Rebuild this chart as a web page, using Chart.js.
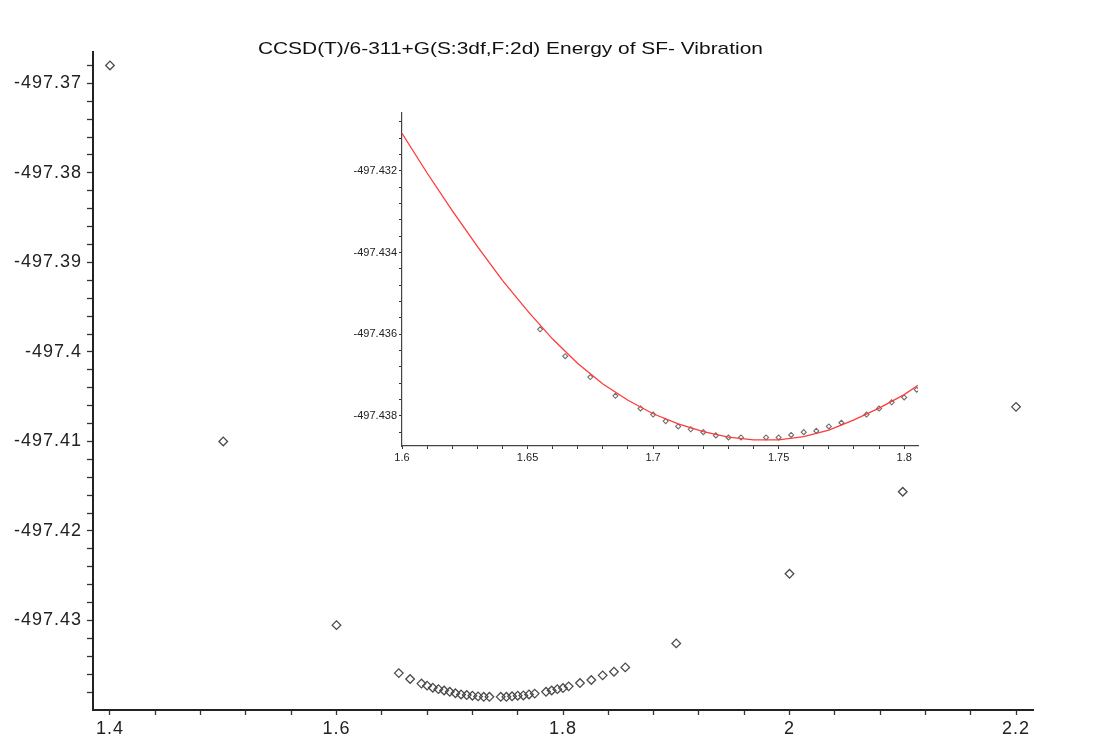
<!DOCTYPE html>
<html>
<head>
<meta charset="utf-8">
<script src="https://cdn.jsdelivr.net/npm/chart.js@4/dist/chart.umd.min.js"></script>
<style>
html,body{margin:0;padding:0;background:#fff;}
#wrap{position:relative;width:1107px;height:741px;overflow:hidden;background:#fff;}
#main{position:absolute;left:0;top:0;}
#inset{position:absolute;left:330px;top:95px;}
#title{position:absolute;top:39px;left:0;width:1020px;text-align:center;}
#title span{display:inline-block;font:17px "Liberation Sans",Arial,sans-serif;line-height:20px;color:#111;white-space:nowrap;transform-origin:50% 50%;}
</style>
</head>
<body>
<div id="wrap">
  <canvas id="main" width="1107" height="741"></canvas>
  <canvas id="inset" width="600" height="375"></canvas>
  <div id="title"><span id="titleText"></span></div>
</div>
<script>
// ---------- data ----------
const titleText = 'CCSD(T)/6-311+G(S:3df,F:2d) Energy of SF- Vibration';

// main plot: bond length vs energy
const mainX = [1.4, 1.5, 1.6, 1.655, 1.665, 1.675, 1.68, 1.685, 1.69, 1.695, 1.7, 1.705, 1.71, 1.715, 1.72, 1.725, 1.73, 1.735, 1.745, 1.75, 1.755, 1.76, 1.765, 1.77, 1.775, 1.785, 1.79, 1.795, 1.8, 1.805, 1.815, 1.825, 1.835, 1.845, 1.855, 1.9, 2.0, 2.1, 2.2];
const mainY = [-497.3680, -497.4100, -497.43052, -497.43588, -497.43654, -497.43705, -497.43728, -497.43751, -497.43767, -497.43782, -497.43797, -497.43813, -497.43826, -497.43833, -497.43840, -497.43848, -497.43853, -497.43853, -497.43853, -497.43853, -497.43847, -497.43840, -497.43837, -497.43826, -497.43817, -497.43797, -497.43782, -497.43767, -497.43755, -497.43736, -497.43699, -497.43665, -497.43613, -497.43572, -497.43524, -497.43256, -497.42479, -497.41562, -497.40614];

// inset: zoomed points
const insetX = [1.655, 1.665, 1.675, 1.685, 1.695, 1.7, 1.705, 1.71, 1.715, 1.72, 1.725, 1.73, 1.735, 1.745, 1.75, 1.755, 1.76, 1.765, 1.77, 1.775, 1.785, 1.79, 1.795, 1.8, 1.805];
const insetY = [-497.43588, -497.43654, -497.43705, -497.43751, -497.43782, -497.43797, -497.43813, -497.43826, -497.43833, -497.43840, -497.43848, -497.43853, -497.43853, -497.43853, -497.43853, -497.43847, -497.43840, -497.43837, -497.43826, -497.43817, -497.43797, -497.43782, -497.43767, -497.43755, -497.43736];

// inset: red fitted curve
const fitX = [1.6, 1.61, 1.62, 1.63, 1.64, 1.65, 1.66, 1.67, 1.68, 1.69, 1.7, 1.71, 1.72, 1.73, 1.74, 1.75, 1.76, 1.77, 1.78, 1.79, 1.8, 1.8055];
const fitY = [-497.43108, -497.43205, -497.43297, -497.43385, -497.43468, -497.43543, -497.43612, -497.43672, -497.43722, -497.43762, -497.43795, -497.43820, -497.43839, -497.43852, -497.43859, -497.43859, -497.43851, -497.43835, -497.43810, -497.43781, -497.43748, -497.43725];

// tick labels
const mainXTickValues = [1.4, 1.6, 1.8, 2.0, 2.2];
const mainXTickLabels = ['1.4', '1.6', '1.8', '2', '2.2'];
const mainYTickValues = [-497.37, -497.38, -497.39, -497.40, -497.41, -497.42, -497.43];
const mainYTickLabels = ['-497.37', '-497.38', '-497.39', '-497.4', '-497.41', '-497.42', '-497.43'];
const insetXTickValues = [1.6, 1.65, 1.7, 1.75, 1.8];
const insetXTickLabels = ['1.6', '1.65', '1.7', '1.75', '1.8'];
const insetYTickValues = [-497.432, -497.434, -497.436, -497.438];
const insetYTickLabels = ['-497.432', '-497.434', '-497.436', '-497.438'];

// ---------- helpers ----------
function stepTicks(start, step, count) {
  const out = [];
  for (let i = 0; i < count; i++) out.push(+(start + i * step).toFixed(6));
  return out;
}
function labeler(values, labels) {
  return function (v) {
    for (let i = 0; i < values.length; i++) if (Math.abs(v - values[i]) < 1e-7) return labels[i];
    return '';
  };
}
function setTicks(arr) {
  return function (scale) { scale.ticks = arr.map(v => ({ value: v })); };
}
const FONT = '"Liberation Sans", Arial, sans-serif';

// ---------- title ----------
const tspan = document.getElementById('titleText');
tspan.textContent = titleText;
const natW = tspan.getBoundingClientRect().width;
tspan.style.transform = 'scaleX(' + (505 / natW).toFixed(4) + ')';

// ---------- main chart ----------
const spacing = { id: 'spacing', beforeDraw(chart) { chart.ctx.letterSpacing = '1px'; } };

new Chart(document.getElementById('main'), {
  type: 'scatter',
  data: {
    datasets: [{
      data: mainX.map((x, i) => ({ x: x, y: mainY[i] })),
      pointStyle: 'rectRot',
      pointRadius: 4.3,
      pointHoverRadius: 4.3,
      borderWidth: 1.3,
      borderColor: '#4a4a4a',
      backgroundColor: 'rgba(255,255,255,0)'
    }]
  },
  options: {
    responsive: false,
    animation: false,
    events: [],
    layout: { padding: { left: 0, top: 52, right: 74, bottom: 0 } },
    plugins: { legend: { display: false }, tooltip: { enabled: false }, title: { display: false } },
    scales: {
      x: {
        type: 'linear', min: 1.385, max: 2.215,
        afterBuildTicks: setTicks(stepTicks(1.4, 0.04, 21)),
        afterFit: s => { s.height = 31; },
        grid: { display: true, drawOnChartArea: false, drawTicks: true, tickLength: 5, tickColor: '#333', tickWidth: 1.3 },
        border: { display: true, color: '#222', width: 2 },
        ticks: { autoSkip: false, maxRotation: 0, padding: 3, color: '#222', font: { size: 18, family: FONT },
                 callback: labeler(mainXTickValues, mainXTickLabels) }
      },
      y: {
        type: 'linear', min: -497.44, max: -497.3665,
        afterBuildTicks: setTicks(stepTicks(-497.438, 0.002, 36)),
        afterFit: s => { s.width = 93; },
        grid: { display: true, drawOnChartArea: false, drawTicks: true, tickLength: 6, tickColor: '#333', tickWidth: 1.3 },
        border: { display: true, color: '#222', width: 2 },
        ticks: { autoSkip: false, padding: 5, color: '#222', font: { size: 18, family: FONT },
                 callback: labeler(mainYTickValues, mainYTickLabels) }
      }
    }
  },
  plugins: [spacing]
});

// ---------- inset chart ----------
new Chart(document.getElementById('inset'), {
  type: 'scatter',
  data: {
    datasets: [{
      data: fitX.map((x, i) => ({ x: x, y: fitY[i] })),
      showLine: true,
      pointRadius: 0,
      pointHoverRadius: 0,
      borderColor: '#ff3b3b',
      borderWidth: 1.3,
      tension: 0,
      fill: false
    }, {
      data: insetX.map((x, i) => ({ x: x, y: insetY[i] })),
      pointStyle: 'rectRot',
      pointRadius: 2.5,
      pointHoverRadius: 2.5,
      borderWidth: 1.1,
      borderColor: '#6e6e6e',
      backgroundColor: 'rgba(255,255,255,0)'
    }]
  },
  options: {
    responsive: false,
    animation: false,
    events: [],
    layout: { padding: { left: 0, top: 18, right: 12, bottom: 0 } },
    plugins: { legend: { display: false }, tooltip: { enabled: false }, title: { display: false } },
    scales: {
      x: {
        type: 'linear', min: 1.6, max: 1.8055,
        afterBuildTicks: setTicks(stepTicks(1.6, 0.01, 21)),
        afterFit: s => { s.height = 24; },
        grid: { display: true, drawOnChartArea: false, drawTicks: true, tickLength: 3, tickColor: '#333', tickWidth: 1 },
        border: { display: true, color: '#444', width: 1.2 },
        ticks: { autoSkip: false, maxRotation: 0, padding: 2, color: '#222', font: { size: 11, family: FONT },
                 callback: labeler(insetXTickValues, insetXTickLabels) }
      },
      y: {
        type: 'linear', min: -497.43874, max: -497.43058,
        afterBuildTicks: setTicks(stepTicks(-497.4384, 0.0004, 20)),
        afterFit: s => { s.width = 72; },
        grid: { display: true, drawOnChartArea: false, drawTicks: true, tickLength: 3, tickColor: '#333', tickWidth: 1 },
        border: { display: true, color: '#444', width: 1.2 },
        ticks: { autoSkip: false, padding: 2, color: '#222', font: { size: 11, family: FONT },
                 callback: labeler(insetYTickValues, insetYTickLabels) }
      }
    }
  }
});
</script>
</body>
</html>
